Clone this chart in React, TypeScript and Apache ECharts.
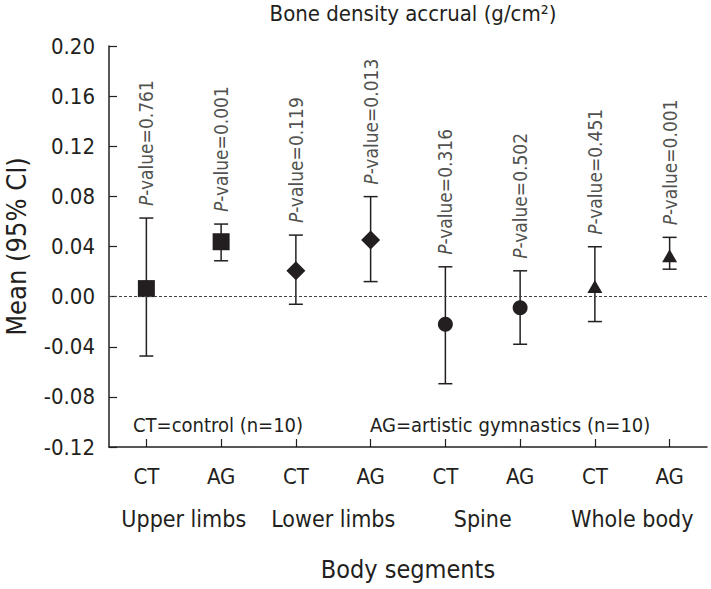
import React, { useEffect, useRef } from "react";
import * as echarts from "echarts";

const categories = ["CT", "AG", "CT", "AG", "CT", "AG", "CT", "AG"];
const segments = ["Upper limbs", "Lower limbs", "Spine", "Whole body"];
const means = [0.0064, 0.0438, 0.0206, 0.0451, -0.022, -0.0088, 0.0081, 0.0326];
const lowerCI = [-0.0474, 0.0286, -0.0061, 0.012, -0.0695, -0.038, -0.0199, 0.0219];
const upperCI = [0.0627, 0.0579, 0.0491, 0.0798, 0.0238, 0.0206, 0.0398, 0.0473];
const pValues = ["0.761", "0.001", "0.119", "0.013", "0.316", "0.502", "0.451", "0.001"];
const yTicks = { min: -0.12, max: 0.2, interval: 0.04 };

const INK = "#231f20";
const FONT = "'Liberation Sans Narrow', 'DejaVu Sans Condensed', 'Roboto', sans-serif";
const segmentSymbols = [
  { symbol: "rect", size: [17, 17] },
  { symbol: "diamond", size: [19, 19] },
  { symbol: "circle", size: [15, 15] },
  { symbol: "triangle", size: [15, 13] },
];

export default function App() {
  const ref = useRef<HTMLDivElement>(null);
  useEffect(() => {
    document.body.style.margin = "0";
    const chart = echarts.init(ref.current!, null, { renderer: "svg" });
    const option: any = {
      animation: false,
      backgroundColor: "#ffffff",
      textStyle: { fontFamily: FONT, color: INK },
      title: {
        text: "Bone density accrual (g/cm²)",
        left: 408,
        top: -3,
        textAlign: "center",
        textStyle: { fontFamily: FONT, fontSize: 22, fontWeight: "normal", color: INK },
      },
      grid: {
        left: 109,
        right: 4,
        top: 46,
        bottom: 142,
        containLabel: false,
        outerBoundsMode: "none",
      },
      xAxis: [
        {
          type: "category",
          data: categories,
          axisLine: { show: true, onZero: false, lineStyle: { color: INK, width: 1.5 } },
          axisTick: { show: true, inside: true, length: 8, alignWithLabel: true, lineStyle: { color: INK, width: 1.2 } },
          axisLabel: { fontFamily: FONT, fontSize: 22, color: INK, margin: 18, interval: 0 },
          splitLine: { show: false },
        },
        {
          type: "category",
          data: segments,
          position: "bottom",
          offset: 44,
          axisLine: { show: false, onZero: false },
          axisTick: { show: false },
          axisLabel: { fontFamily: FONT, fontSize: 23, color: INK, margin: 16, interval: 0 },
          splitLine: { show: false },
          name: "Body segments",
          nameLocation: "middle",
          nameGap: 66,
          nameTextStyle: { fontFamily: FONT, fontSize: 25, color: INK },
        },
      ],
      yAxis: {
        type: "value",
        min: yTicks.min,
        max: yTicks.max,
        interval: yTicks.interval,
        axisLine: { show: true, onZero: false, lineStyle: { color: INK, width: 1.5 } },
        axisTick: { show: true, inside: true, length: 8, lineStyle: { color: INK, width: 1.2 } },
        axisLabel: {
          fontFamily: FONT,
          fontSize: 22,
          color: INK,
          margin: 14,
          formatter: (v: number) => v.toFixed(2),
        },
        splitLine: { show: false },
        name: "Mean (95% CI)",
        nameLocation: "middle",
        nameGap: 79,
        nameTextStyle: { fontFamily: FONT, fontSize: 27, color: INK },
      },
      series: [
        {
          type: "custom",
          xAxisIndex: 0,
          data: categories.map((_, i) => [i, lowerCI[i], upperCI[i]]),
          renderItem: (params: any, api: any) => {
            const lo = api.coord([api.value(0), api.value(1)]);
            const hi = api.coord([api.value(0), api.value(2)]);
            const cx = lo[0];
            const half = 7;
            const st = { stroke: INK, lineWidth: 1.5 };
            return {
              type: "group",
              children: [
                { type: "line", shape: { x1: cx, y1: hi[1], x2: cx, y2: lo[1] }, style: st },
                { type: "line", shape: { x1: cx - half, y1: hi[1], x2: cx + half, y2: hi[1] }, style: st },
                { type: "line", shape: { x1: cx - half, y1: lo[1], x2: cx + half, y2: lo[1] }, style: st },
              ],
            };
          },
          markLine: {
            silent: true,
            symbol: "none",
            label: { show: false },
            lineStyle: { color: "#444", width: 1, type: [3, 2] },
            data: [{ yAxis: 0 }],
          },
          z: 2,
        },
        {
          type: "scatter",
          xAxisIndex: 0,
          data: categories.map((_, i) => {
            const s = segmentSymbols[Math.floor(i / 2)];
            return {
              value: [i, means[i]],
              symbol: s.symbol,
              symbolSize: s.size,
            };
          }),
          itemStyle: { color: INK, opacity: 1 },
          z: 3,
        },
        {
          type: "scatter",
          xAxisIndex: 0,
          symbolSize: 0,
          data: categories.map((_, i) => ({ value: [i, upperCI[i]] })),
          label: {
            show: true,
            position: "top",
            distance: 12,
            rotate: 90,
            align: "left",
            verticalAlign: "middle",
            formatter: (p: any) => `{i|P}-value=${pValues[p.dataIndex]}`,
            fontFamily: FONT,
            fontSize: 19,
            color: INK,
            rich: {
              i: { fontStyle: "italic", fontFamily: FONT, fontSize: 19, color: INK },
            },
          },
          z: 4,
        },
      ],
      graphic: [
        {
          type: "text",
          left: 133,
          top: 415,
          style: { text: "CT=control (n=10)", font: `20px ${FONT}`, fill: INK },
        },
        {
          type: "text",
          left: 370,
          top: 415,
          style: { text: "AG=artistic gymnastics (n=10)", font: `20px ${FONT}`, fill: INK },
        },
      ],
    };
    chart.setOption(option);
    return () => chart.dispose();
  }, []);
  return <div ref={ref} style={{ position: "fixed", left: 0, top: 0, width: 711, height: 589 }} />;
}
